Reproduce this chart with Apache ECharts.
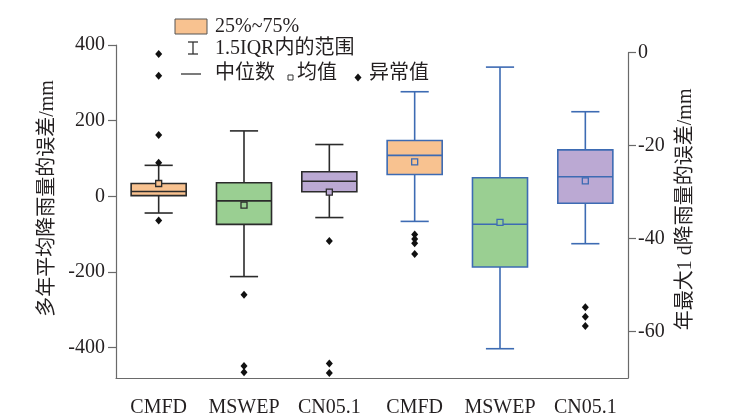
<!DOCTYPE html>
<html>
<head>
<meta charset="utf-8">
<script src="https://cdn.jsdelivr.net/npm/echarts@6/dist/echarts.min.js"></script>
<style>html,body{margin:0;padding:0;background:#fff;}#chart{width:743px;height:420px;}</style>
</head>
<body>
<div id="chart"></div>
<script>
// categories
const categories = ['CMFD', 'MSWEP', 'CN05.1', 'CMFD', 'MSWEP', 'CN05.1'];
const products = ['CMFD', 'MSWEP', 'CN05.1'];
// left axis: error of multi-year mean precipitation (mm): [min, Q1, median, Q3, max]
const meanBox = [[-44, 2, 13, 34, 82], [-212, -74, -12, 36, 173], [-56, 12, 40, 65, 137]];
const meanMean = [34, -23, 11];
const meanOutliers = [[376, 319, 162, 89, -64], [-260, -448, -465], [-118, -442, -467]];
// right axis: error of annual maximum 1 d precipitation (mm)
const maxBox = [[-36.3, -26.2, -22.1, -18.9, -8.4], [-63.7, -46.1, -36.9, -26.9, -3.1], [-41.1, -32.4, -26.7, -20.9, -12.7]];
const maxMean = [-23.5, -36.5, -27.6];
const maxOutliers = [[-39.1, -40.1, -41.0, -43.3], [], [-54.8, -56.8, -58.8]];
// tick labels
const leftTicks = [-400, -200, 0, 200, 400];
const rightTicks = [-60, -40, -20, 0];

const fills = ['#F8C290', '#9ACF92', '#BBA9D3'];
const FONT = "'Liberation Serif', 'Noto Sans CJK SC', serif";
const TXT = '#231F20';
const AX = '#6a6a6a';

function boxData(box, mean) {
  return box.map((b, i) => [i].concat(b).concat([mean[i]]));
}
function outData(outs) {
  const r = [];
  outs.forEach((arr, i) => arr.forEach(v => r.push([i, v])));
  return r;
}
function makeRender(stroke) {
  return function (params, api) {
    const i = api.value(0);
    const band = api.size([1, 0])[0];
    const bw = band * 0.645, cw = band * 0.33;
    const pMin = api.coord([i, api.value(1)]);
    const pQ1 = api.coord([i, api.value(2)]);
    const pMed = api.coord([i, api.value(3)]);
    const pQ3 = api.coord([i, api.value(4)]);
    const pMax = api.coord([i, api.value(5)]);
    const pMean = api.coord([i, api.value(6)]);
    const x = pMed[0];
    const ls = { stroke: stroke, lineWidth: 1.6, fill: null };
    const fill = fills[params.dataIndex];
    return {
      type: 'group',
      children: [
        { type: 'line', shape: { x1: x, y1: pMax[1], x2: x, y2: pQ3[1] }, style: ls },
        { type: 'line', shape: { x1: x, y1: pQ1[1], x2: x, y2: pMin[1] }, style: ls },
        { type: 'line', shape: { x1: x - cw / 2, y1: pMax[1], x2: x + cw / 2, y2: pMax[1] }, style: ls },
        { type: 'line', shape: { x1: x - cw / 2, y1: pMin[1], x2: x + cw / 2, y2: pMin[1] }, style: ls },
        { type: 'rect', shape: { x: x - bw / 2, y: pQ3[1], width: bw, height: pQ1[1] - pQ3[1] }, style: { fill: fill, stroke: stroke, lineWidth: 1.6 } },
        { type: 'line', shape: { x1: x - bw / 2, y1: pMed[1], x2: x + bw / 2, y2: pMed[1] }, style: ls },
        { type: 'rect', shape: { x: x - 3, y: pMean[1] - 3, width: 6, height: 6 }, style: { fill: fill, stroke: stroke, lineWidth: 1.3 } }
      ]
    };
  };
}

const chart = echarts.init(document.getElementById('chart'), null, { renderer: 'canvas' });
const textStyle = { fontFamily: FONT, fontSize: 20, color: TXT };

chart.setOption({
  animation: false,
  backgroundColor: '#fff',
  textStyle: { fontFamily: FONT },
  grid: [
    { left: 116, right: 115, top: 45, bottom: 42 },
    { left: 372, right: 115, top: 52.7, bottom: 42 }
  ],
  xAxis: [
    {
      gridIndex: 0, type: 'category', data: categories,
      axisLine: { onZero: false, lineStyle: { color: AX, width: 1.2 } },
      axisTick: { alignWithLabel: true, length: 8, lineStyle: { color: AX, width: 1.2 } },
      axisLabel: Object.assign({ margin: 20, interval: 0 }, textStyle)
    },
    {
      gridIndex: 1, type: 'category', data: products, show: false
    }
  ],
  yAxis: [
    {
      gridIndex: 0, type: 'value', min: -480, max: 400, position: 'left',
      name: '多年平均降雨量的误差/mm', nameLocation: 'middle', nameRotate: 90, nameGap: 58,
      nameTextStyle: Object.assign({ padding: [0, 0, 0, 26] }, textStyle),
      axisLine: { show: true, onZero: false, lineStyle: { color: AX, width: 1.2 } },
      axisTick: { show: true, length: 8, customValues: leftTicks, lineStyle: { color: AX, width: 1.2 } },
      axisLabel: Object.assign({ margin: 11, customValues: leftTicks }, textStyle),
      splitLine: { show: false }
    },
    {
      gridIndex: 1, type: 'value', min: -70, max: 0, position: 'right',
      name: '年最大1 d降雨量的误差/mm', nameLocation: 'middle', nameRotate: 90, nameGap: 48,
      nameTextStyle: Object.assign({ padding: [0, 0, 0, 12] }, textStyle),
      axisLine: { show: true, onZero: false, lineStyle: { color: AX, width: 1.2 } },
      axisTick: { show: true, length: 8, customValues: rightTicks, lineStyle: { color: AX, width: 1.2 } },
      axisLabel: Object.assign({ margin: 10, customValues: rightTicks }, textStyle),
      splitLine: { show: false }
    }
  ],
  series: [
    {
      type: 'custom', xAxisIndex: 0, yAxisIndex: 0,
      data: boxData(meanBox, meanMean),
      encode: { x: 0, y: [1, 2, 3, 4, 5] },
      renderItem: makeRender('#2b2b2b'), z: 2
    },
    {
      type: 'custom', xAxisIndex: 1, yAxisIndex: 1,
      data: boxData(maxBox, maxMean),
      encode: { x: 0, y: [1, 2, 3, 4, 5] },
      renderItem: makeRender('#3D6BB3'), z: 2
    },
    {
      type: 'scatter', xAxisIndex: 0, yAxisIndex: 0,
      data: outData(meanOutliers), symbol: 'diamond', symbolSize: [7, 8],
      itemStyle: { color: '#111', opacity: 1 }, z: 3
    },
    {
      type: 'scatter', xAxisIndex: 1, yAxisIndex: 1,
      data: outData(maxOutliers), symbol: 'diamond', symbolSize: [7, 8],
      itemStyle: { color: '#111', opacity: 1 }, z: 3
    }
  ],
  graphic: [
    { type: 'rect', shape: { x: 175, y: 19, width: 32, height: 15 }, style: { fill: '#F8C290', stroke: '#555', lineWidth: 1 } },
    { type: 'text', x: 215, y: 27, style: { text: '25%~75%', font: '20px ' + FONT, fill: TXT, verticalAlign: 'middle' } },
    { type: 'line', shape: { x1: 193, y1: 42, x2: 193, y2: 54 }, style: { stroke: '#333', lineWidth: 1.3 } },
    { type: 'line', shape: { x1: 188, y1: 42, x2: 198, y2: 42 }, style: { stroke: '#333', lineWidth: 1.3 } },
    { type: 'line', shape: { x1: 188, y1: 54, x2: 198, y2: 54 }, style: { stroke: '#333', lineWidth: 1.3 } },
    { type: 'text', x: 215, y: 49, style: { text: '1.5IQR内的范围', font: '20px ' + FONT, fill: TXT, verticalAlign: 'middle' } },
    { type: 'line', shape: { x1: 181, y1: 74, x2: 201, y2: 74 }, style: { stroke: '#333', lineWidth: 1.3 } },
    { type: 'text', x: 215, y: 74, style: { text: '中位数', font: '20px ' + FONT, fill: TXT, verticalAlign: 'middle' } },
    { type: 'rect', shape: { x: 288, y: 75, width: 5, height: 5 }, style: { fill: '#fff', stroke: '#333', lineWidth: 1 } },
    { type: 'text', x: 297, y: 74, style: { text: '均值', font: '20px ' + FONT, fill: TXT, verticalAlign: 'middle' } },
    { type: 'polygon', shape: { points: [[358, 73.5], [361.5, 77.5], [358, 81.5], [354.5, 77.5]] }, style: { fill: '#111' } },
    { type: 'text', x: 369, y: 74, style: { text: '异常值', font: '20px ' + FONT, fill: TXT, verticalAlign: 'middle' } }
  ]
});
</script>
</body>
</html>
